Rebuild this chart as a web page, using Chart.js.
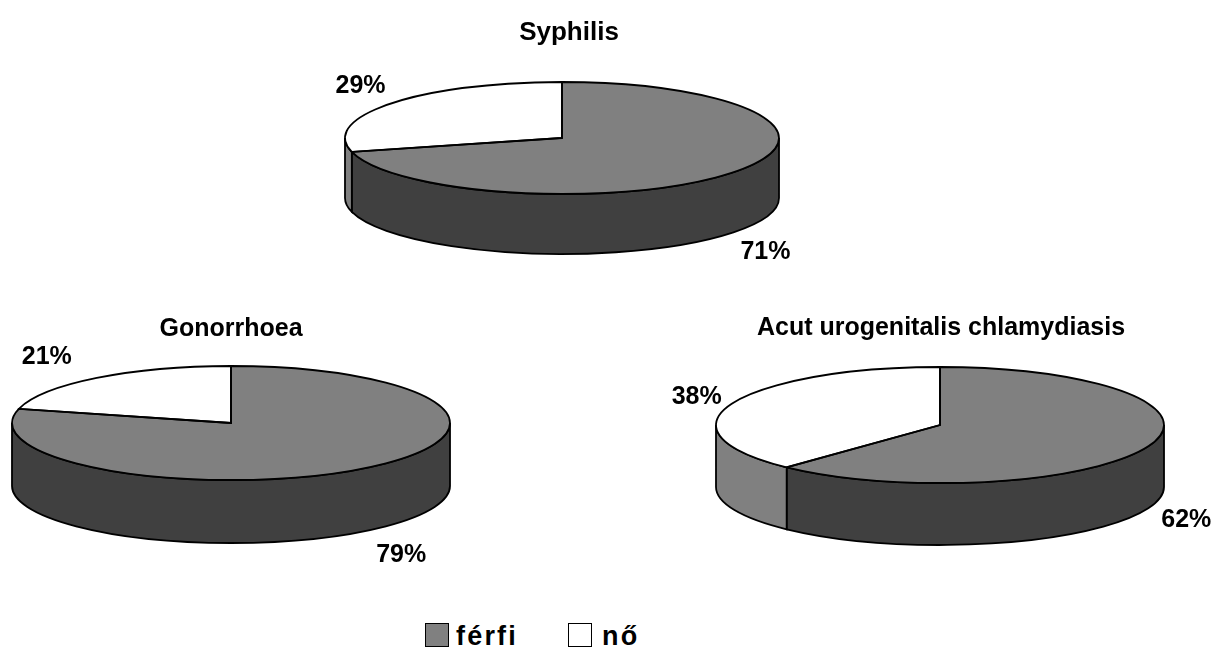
<!DOCTYPE html>
<html>
<head>
<meta charset="utf-8">
<title>Syphilis, Gonorrhoea, Chlamydia</title>
<script src="https://cdn.jsdelivr.net/npm/chart.js@4/dist/chart.umd.min.js"></script>
<style>
  html, body { margin: 0; padding: 0; background: #fff; overflow: hidden; }
  #page { position: relative; width: 1222px; height: 648px; }
  canvas { position: absolute; }
  .swatch { position: absolute; top: 623px; width: 22px; height: 22px; border: 1.5px solid #000; }
  .legendText { position: absolute; top: 618px; font: bold 27px "Liberation Sans", Arial, sans-serif; letter-spacing: 2.2px; line-height: 36px; color: #000; }
</style>
</head>
<body>
<div id="page"></div>
<script>
// data
var categories = ['férfi', 'nő'];
var syphilisValues = [71, 29];
var gonorrhoeaValues = [79, 21];
var chlamydiaValues = [62, 38];
var titles = ['Syphilis', 'Gonorrhoea', 'Acut urogenitalis chlamydiasis'];

var topColors = ['#808080', '#ffffff'];
var sideColors = ['#404040', '#808080'];
var fontName = '"Liberation Sans", Arial, sans-serif';

// draws the flattened disc: the wall goes in first, then the library's arcs squashed onto the ellipse
var pie3d = {
  id: 'pie3d',
  beforeDatasetsDraw: function(chart, args, opts) {
    var ctx = chart.ctx;
    var arcs = chart.getDatasetMeta(0).data;
    ctx.save();
    ctx.lineWidth = 1.8;
    ctx.strokeStyle = '#000';
    arcs.forEach(function(arc, i) {
      var a = Math.max(arc.startAngle, 0);
      var b = Math.min(arc.endAngle, Math.PI);
      if (b <= a) return;
      ctx.beginPath();
      ctx.ellipse(opts.cx, opts.cy, opts.rx, opts.ry, 0, a, b);
      ctx.ellipse(opts.cx, opts.cy + opts.depth, opts.rx, opts.ry, 0, b, a, true);
      ctx.closePath();
      ctx.fillStyle = sideColors[i];
      ctx.fill();
      ctx.stroke();
    });
    ctx.restore();

    var first = arcs[0];
    ctx.save();
    ctx.translate(opts.cx, opts.cy);
    ctx.scale(opts.rx / first.outerRadius, opts.ry / first.outerRadius);
    ctx.translate(-first.x, -first.y);
  },
  afterDatasetsDraw: function(chart, args, opts) {
    var ctx = chart.ctx;
    ctx.restore();
    var arcs = chart.getDatasetMeta(0).data;
    var values = chart.data.datasets[0].data;
    ctx.save();
    ctx.lineWidth = 1.8;
    ctx.strokeStyle = '#000';
    arcs.forEach(function(arc) {
      ctx.beginPath();
      ctx.moveTo(opts.cx, opts.cy);
      ctx.ellipse(opts.cx, opts.cy, opts.rx, opts.ry, 0, arc.startAngle, arc.endAngle);
      ctx.closePath();
      ctx.stroke();
    });
    ctx.fillStyle = '#000';
    ctx.font = 'bold 25px ' + fontName;
    ctx.textAlign = 'center';
    ctx.textBaseline = 'middle';
    arcs.forEach(function(arc, i) {
      var mid = (arc.startAngle + arc.endAngle) / 2;
      var x = opts.cx + opts.rx * Math.cos(mid) + opts.labelShift[i][0];
      var y = opts.cy + opts.ry * Math.sin(mid) + opts.labelShift[i][1];
      ctx.fillText(values[i] + '%', x, y);
    });
    ctx.restore();
  }
};

function makePie(left, top, width, height, title, titleSize, values, geo) {
  var canvas = document.createElement('canvas');
  canvas.width = width;
  canvas.height = height;
  canvas.style.left = left + 'px';
  canvas.style.top = top + 'px';
  canvas.style.width = width + 'px';
  canvas.style.height = height + 'px';
  document.getElementById('page').appendChild(canvas);
  return new Chart(canvas.getContext('2d'), {
    type: 'pie',
    data: {
      labels: categories,
      datasets: [{
        data: values,
        backgroundColor: topColors,
        borderWidth: 0,
        clip: false
      }]
    },
    options: {
      responsive: false,
      devicePixelRatio: 1,
      animation: false,
      plugins: {
        legend: { display: false },
        tooltip: { enabled: false },
        title: {
          display: true,
          text: title,
          color: '#000',
          padding: 0,
          font: { family: fontName, size: titleSize, weight: 'bold' }
        },
        pie3d: {
          cx: geo.cx - left,
          cy: geo.cy - top,
          rx: geo.rx,
          ry: geo.ry,
          depth: geo.depth,
          labelShift: geo.labelShift
        }
      }
    },
    plugins: [pie3d]
  });
}

makePie(289, 17, 560, 260, titles[0], 26, syphilisValues,
  { cx: 562, cy: 138, rx: 217, ry: 56, depth: 60, labelShift: [[32, 80], [-30, -18]] });
makePie(0, 314, 462, 270, titles[1], 25, gonorrhoeaValues,
  { cx: 231, cy: 423, rx: 219, ry: 57, depth: 63, labelShift: [[36, 87], [-50, -21]] });
makePie(661, 313, 560, 270, titles[2], 25, chlamydiaValues,
  { cx: 940, cy: 425, rx: 224, ry: 58, depth: 62, labelShift: [[38, 74], [-35, -7]] });

// legend under the three discs
var legendSwatchX = [425, 568];
var legendTextX = [456, 602];
categories.forEach(function(name, i) {
  var box = document.createElement('div');
  box.className = 'swatch';
  box.style.left = legendSwatchX[i] + 'px';
  box.style.background = topColors[i];
  var label = document.createElement('div');
  label.className = 'legendText';
  label.style.left = legendTextX[i] + 'px';
  label.textContent = name;
  document.getElementById('page').appendChild(box);
  document.getElementById('page').appendChild(label);
});
</script>
</body>
</html>
